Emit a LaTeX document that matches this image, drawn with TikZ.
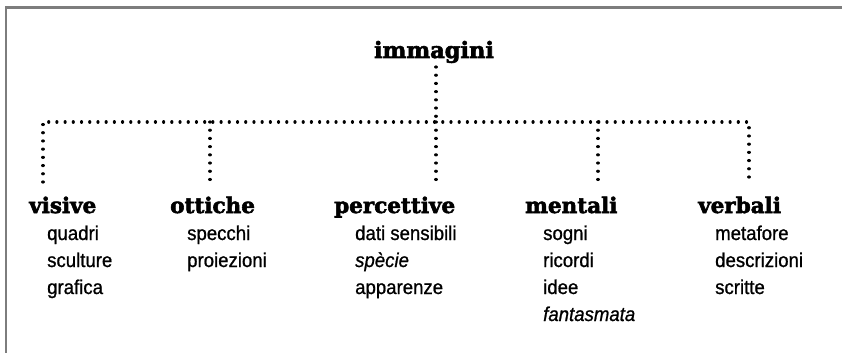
\documentclass[tikz,border=0pt]{standalone}
\usepackage{fontspec}
\setmainfont{Liberation Sans}
\newfontfamily\headfont[FakeBold=2.6]{DejaVu Serif}
\newfontfamily\itemfont[FakeBold=0.9,FakeStretch=0.93]{Liberation Sans}
\definecolor{framegray}{RGB}{125,125,125}
\tikzset{
  head/.style={anchor=base west, inner sep=0pt, font=\headfont\bfseries\fontsize{21.5}{24}\selectfont},
  rootlabel/.style={anchor=base, inner sep=0pt, font=\headfont\bfseries\fontsize{22.5}{25}\selectfont},
  sub/.style={anchor=base west, inner sep=0pt, font=\itemfont\fontsize{20}{22}\selectfont},
  dotline/.style={line width=3.2pt, line cap=round, dash pattern=on 0.01pt off 8.2pt},
  framebar/.style={line width=2.6pt, draw=framegray}
}
\begin{document}
\begin{tikzpicture}[x=1pt,y=1pt]
\useasboundingbox (0,0) rectangle (842,-353);
% frame
\draw[framebar] (842,-7.5) -- (5.8,-7.5) -- (5.8,-353);
% root
\node[rootlabel] (root) at (434,-58) {immagini};
% junction coordinates
\coordinate (rtop) at (436,-67);
\coordinate (jroot) at (436,-122);
\coordinate (j1) at (43,-122);
\coordinate (j2) at (210,-122);
\coordinate (j4) at (598,-122);
\coordinate (j5) at (749,-122);
\coordinate (e1) at (43,-182);
\coordinate (e2) at (210,-182);
\coordinate (e3) at (436,-182);
\coordinate (e4) at (598,-182);
\coordinate (e5) at (749,-182);
% headers
\node[head] (h1) at (29,-213) {visive};
\node[head] (h2) at (170,-213) {ottiche};
\node[head] (h3) at (334,-213) {percettive};
\node[head] (h4) at (525,-213) {mentali};
\node[head] (h5) at (698,-213) {verbali};
% items
\node[sub] (a1) at (47,-240) {quadri};
\node[sub] (a2) at (47,-267) {sculture};
\node[sub] (a3) at (47,-294) {grafica};
\node[sub] (b1) at (187,-240) {specchi};
\node[sub] (b2) at (187,-267) {proiezioni};
\node[sub] (c1) at (355,-240) {dati sensibili};
\node[sub] (c2) at (355,-267) {\itshape spècie};
\node[sub] (c3) at (355,-294) {apparenze};
\node[sub] (d1) at (543,-240) {sogni};
\node[sub] (d2) at (543,-267) {ricordi};
\node[sub] (d3) at (543,-294) {idee};
\node[sub] (d4) at (543,-321) {\itshape fantasmata};
\node[sub] (f1) at (715,-240) {metafore};
\node[sub] (f2) at (715,-267) {descrizioni};
\node[sub] (f3) at (715,-294) {scritte};
% connectors
\draw[dotline] (rtop) -- (jroot);
\draw[dotline] (e1) -- (j1) -- (j5) -- (e5);
\draw[dotline] (j2) -- (e2);
\draw[dotline] (jroot) -- (e3);
\draw[dotline] (j4) -- (e4);
\end{tikzpicture}
\end{document}
